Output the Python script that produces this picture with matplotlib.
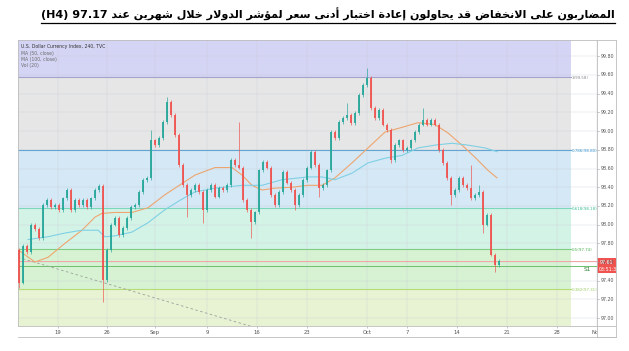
import numpy as np
import matplotlib
matplotlib.use("Agg")
import matplotlib.pyplot as plt
from matplotlib.patches import Rectangle
from matplotlib.lines import Line2D

W, H, DPI = 629, 351, 100

# ---------------------------------------------------------------- data
TITLE_AR = "المضاربون على الانخفاض قد يحاولون إعادة اختبار أدنى سعر لمؤشر الدولار خلال شهرين عند"
TITLE_LTR = "(H4) 97.17"

# DXY 4h candles (closes, ~2.4 bars per candle)
OPEN0 = 97.73
CLOSES = [
    97.38, 97.77, 97.71, 98.00, 97.95, 97.86, 98.21, 98.26, 98.19, 98.21,
    98.16, 98.28, 98.37, 98.16, 98.26, 98.21, 98.26, 98.19, 98.28, 98.37,
    98.41, 97.41, 97.73, 98.00, 98.07, 97.89, 97.96, 98.07, 98.19, 98.21,
    98.35, 98.48, 98.50, 98.90, 98.85, 98.93, 99.10, 99.31, 99.17, 98.96,
    98.64, 98.42, 98.32, 98.37, 98.42, 98.35, 98.16, 98.37, 98.42, 98.30,
    98.39, 98.37, 98.42, 98.69, 98.64, 98.61, 98.26, 98.16, 98.03, 98.13,
    98.58, 98.67, 98.61, 98.32, 98.21, 98.35, 98.56, 98.45, 98.37, 98.21,
    98.32, 98.48, 98.61, 98.78, 98.64, 98.39, 98.42, 98.58, 98.99, 98.93,
    99.10, 99.14, 99.17, 99.09, 99.19, 99.39, 99.49, 99.57, 99.25, 99.14,
    99.23, 99.07, 99.01, 98.69, 98.85, 98.90, 98.80, 98.82, 98.90, 98.99,
    99.07, 99.12, 99.07, 99.12, 99.07, 98.80, 98.66, 98.50, 98.32, 98.37,
    98.50, 98.42, 98.39, 98.28, 98.32, 98.35, 98.00, 98.10, 97.68, 97.57,
    97.61,
]
# long wicks that stick out
WICK_HIGH = {0: 97.75, 21: 98.43, 33: 99.01, 37: 99.36, 55: 99.10, 73: 98.80,
             82: 99.30, 87: 99.67, 101: 99.25, 104: 99.14, 113: 98.64, 115: 98.42}
WICK_LOW = {0: 97.32, 21: 97.17, 42: 98.08, 46: 98.02, 58: 97.86, 69: 98.16,
            75: 98.30, 93: 98.66, 108: 98.21, 116: 97.91, 119: 97.49}

MA50_IDX = [-0.25, 4, 7.25, 11.5, 15.75, 19, 20.75, 24, 28.25, 32.25, 36.5, 39, 44,
            49, 53.25, 55.75, 58.25, 60.75, 64, 68.25, 72.25, 75.75, 79, 83.25,
            87.25, 91.5, 95.75, 99.75, 104, 107.25, 110.75, 114, 117.25, 119.5]
MA50 = [97.73, 97.60, 97.65, 97.80, 97.94, 98.08, 98.12, 98.13, 98.13, 98.18,
        98.32, 98.39, 98.53, 98.61, 98.61, 98.53, 98.42, 98.37, 98.39, 98.40,
        98.42, 98.42, 98.50, 98.66, 98.82, 98.99, 99.04, 99.09, 99.07, 98.98,
        98.85, 98.72, 98.58, 98.50]
MA100_IDX = [2.25, 7.25, 11.5, 15.75, 19.75, 21.5, 24, 28.25, 32.25, 36.5, 40.25,
             44, 49, 55.75, 60.75, 65.75, 72.25, 75.75, 79, 83.25, 87.25, 91.5,
             95.75, 99.75, 104, 108.25, 112.25, 116.5, 119.5]
MA100 = [97.84, 97.87, 97.91, 97.94, 97.94, 97.87, 97.88, 97.92, 98.02, 98.16,
         98.26, 98.35, 98.39, 98.42, 98.42, 98.48, 98.51, 98.51, 98.48, 98.55,
         98.66, 98.71, 98.74, 98.82, 98.85, 98.87, 98.85, 98.82, 98.78]

FIB_NAMES = ["1", "0.786", "0.618", "0.5", "0.382"]
FIB_PRICES = [99.58, 98.80, 98.18, 97.74, 97.31]
LAST_PRICE = 97.61
S1_PRICE = 97.56
TREND_IDX = [-0.25, 70]
TREND_P = [97.65, 96.76]

DATE_TICKS = [9.75, 22, 34, 47, 59.5, 72, 87, 97, 109.5, 122, 134.5, 144.5]
DATE_LABELS = ["19", "26", "Sep", "9", "16", "23", "Oct", "7", "14", "21", "28", "Nov"]
PRICE_TICKS = [97.0, 97.2, 97.4, 97.6, 97.8, 98.0, 98.2, 98.4, 98.6, 98.8,
               99.0, 99.2, 99.4, 99.6, 99.8]

# ---------------------------------------------------------------- style
TEAL, RED = "#26a69a", "#ef5350"
BAND_COLORS = ["#d4d4f5", "#e6e6e6", "#d5e8f5", "#d4f3e7", "#d7f2d3", "#e7f3d3"]
FIB_LINE = ["#a3a3cc", "#64a6d1", "#7bd8bd", "#7fcd80", "#b8dc75"]
FIB_TEXT = ["#8a8a8a", "#3d98d0", "#3cbf94", "#4caf50", "#9ccc65"]
FIB_END = 138.0
XLIM = (-0.25, 144.5)


def price_at(ypx):
    # screenshot pixel row -> price (99.60 sits at row 75, 93.5 px per point)
    return 99.60 - (ypx - 75) / 93.5


def px_axes(fig, x0, y0, x1, y1):
    return fig.add_axes([x0 / W, 1 - y1 / H, (x1 - x0) / W, (y1 - y0) / H])


# ---- tiny arabic shaper (matplotlib has no bidi / joining support)
FORMS = {
    "ا": ("\uFE8D", "\uFE8E", None, None), "أ": ("\uFE83", "\uFE84", None, None),
    "إ": ("\uFE87", "\uFE88", None, None), "ؤ": ("\uFE85", "\uFE86", None, None),
    "ب": ("\uFE8F", "\uFE90", "\uFE91", "\uFE92"), "ة": ("\uFE93", "\uFE94", None, None),
    "ت": ("\uFE95", "\uFE96", "\uFE97", "\uFE98"), "ح": ("\uFEA1", "\uFEA2", "\uFEA3", "\uFEA4"),
    "خ": ("\uFEA5", "\uFEA6", "\uFEA7", "\uFEA8"), "د": ("\uFEA9", "\uFEAA", None, None),
    "ر": ("\uFEAD", "\uFEAE", None, None), "س": ("\uFEB1", "\uFEB2", "\uFEB3", "\uFEB4"),
    "ش": ("\uFEB5", "\uFEB6", "\uFEB7", "\uFEB8"), "ض": ("\uFEBD", "\uFEBE", "\uFEBF", "\uFEC0"),
    "ع": ("\uFEC9", "\uFECA", "\uFECB", "\uFECC"), "ف": ("\uFED1", "\uFED2", "\uFED3", "\uFED4"),
    "ق": ("\uFED5", "\uFED6", "\uFED7", "\uFED8"), "ل": ("\uFEDD", "\uFEDE", "\uFEDF", "\uFEE0"),
    "م": ("\uFEE1", "\uFEE2", "\uFEE3", "\uFEE4"), "ن": ("\uFEE5", "\uFEE6", "\uFEE7", "\uFEE8"),
    "ه": ("\uFEE9", "\uFEEA", "\uFEEB", "\uFEEC"), "و": ("\uFEED", "\uFEEE", None, None),
    "ى": ("\uFEEF", "\uFEF0", None, None), "ي": ("\uFEF1", "\uFEF2", "\uFEF3", "\uFEF4"),
}
LAM_ALEF = {"ا": ("\uFEFB", "\uFEFC"), "أ": ("\uFEF7", "\uFEF8"), "إ": ("\uFEF9", "\uFEFA")}


def shape(text):
    def joins_next(c):
        return c in FORMS and FORMS[c][2] is not None
    out, i, n = [], 0, len(text)
    while i < n:
        c = text[i]
        if c not in FORMS:
            out.append(c)
            i += 1
            continue
        link_prev = i > 0 and joins_next(text[i - 1])
        if c == "ل" and i + 1 < n and text[i + 1] in LAM_ALEF:
            iso, fin = LAM_ALEF[text[i + 1]]
            out.append(fin if link_prev else iso)
            i += 2
            continue
        link_next = joins_next(c) and i + 1 < n and text[i + 1] in FORMS
        iso, fin, ini, med = FORMS[c]
        out.append(med if (link_prev and link_next) else fin if link_prev
                   else ini if link_next else iso)
        i += 1
    return "".join(out)


def main():
    fig = plt.figure(figsize=(W / DPI, H / DPI), dpi=DPI)
    fig.patch.set_facecolor("white")

    # ---- title, fitted to the screenshot width and underlined
    title = TITLE_LTR + " " + shape(TITLE_AR)[::-1]
    t = fig.text(615 / W, 1 - 19 / H, title, ha="right", va="baseline",
                 fontsize=10, fontweight="bold", family="DejaVu Sans", color="black")
    fig.canvas.draw()
    bb = t.get_window_extent()
    t.set_fontsize(10 * 575 / bb.width)
    fig.canvas.draw()
    bb = t.get_window_extent()
    fig.add_artist(Line2D([bb.x0 / W, bb.x1 / W], [1 - 23 / H] * 2,
                          color="black", lw=0.9, transform=fig.transFigure))

    # ---- main price pane
    ax = px_axes(fig, 18, 40, 597, 326)
    ylo, yhi = price_at(326), price_at(40)
    ax.set_xlim(*XLIM)
    ax.set_ylim(ylo, yhi)
    ax.set_facecolor("white")

    edges = [yhi] + FIB_PRICES + [ylo]
    for k, col in enumerate(BAND_COLORS):
        ax.fill_between([XLIM[0], FIB_END], edges[k + 1], edges[k], color=col,
                        lw=0, zorder=0.5)
    for p in PRICE_TICKS:
        ax.axhline(p, color="#c9ced6", lw=0.35, alpha=0.7, zorder=0.8)
    for xt in DATE_TICKS:
        ax.axvline(xt, color="#c9ced6", lw=0.35, alpha=0.7, zorder=0.8)
    for name, p, lc, tc in zip(FIB_NAMES, FIB_PRICES, FIB_LINE, FIB_TEXT):
        ax.plot([XLIM[0], FIB_END], [p, p], color=lc, lw=0.8, zorder=1)
        ax.text(FIB_END + 0.2, p - 0.01, f"{name}({p:.2f})", color=tc, fontsize=2.9,
                va="center", ha="left", zorder=6, clip_on=True)

    ax.axhline(LAST_PRICE, color="#f2a5a5", lw=0.7, zorder=1.2)
    ax.axhline(S1_PRICE, color="#6cbf6e", lw=0.7, zorder=1.2)
    ax.text(141.2, S1_PRICE - 0.035, "S1", color="#2e7d32", fontsize=4.2,
            va="center", ha="left", zorder=6)

    ax.plot(TREND_IDX, TREND_P, color="#9e9e9e", lw=0.6, ls=(0, (3, 3)), zorder=2)

    ax.plot(MA50_IDX, MA50, color="#eea56f", lw=0.8, zorder=3)
    ax.plot(MA100_IDX, MA100, color="#7fd0e4", lw=0.8, zorder=3)

    # candles
    closes = np.array(CLOSES)
    opens = np.r_[OPEN0, closes[:-1]]
    idx = np.arange(len(closes))
    highs = np.maximum(opens, closes) + 0.02
    lows = np.minimum(opens, closes) - 0.02
    for k, v in WICK_HIGH.items():
        highs[k] = v
    for k, v in WICK_LOW.items():
        lows[k] = v
    cols = np.where(closes >= opens, TEAL, RED)
    ax.vlines(idx, lows, highs, colors=cols, lw=0.55, alpha=0.85, zorder=4)
    ax.bar(idx, closes - opens, bottom=opens, width=0.65, color=cols,
           lw=0, alpha=0.9, zorder=5)

    # header text
    ax.text(0.006, 0.985, "U.S. Dollar Currency Index, 240, TVC", transform=ax.transAxes,
            fontsize=3.3, color="#333333", va="top", ha="left", zorder=6)
    for k, s in enumerate(["MA (50, close)", "MA (100, close)", "Vol (20)"]):
        ax.text(0.006, 0.963 - 0.021 * k, s, transform=ax.transAxes, fontsize=3.3,
                color="#6b6b6b", va="top", ha="left", zorder=6)

    ax.set_xticks(DATE_TICKS)
    ax.set_xticklabels(DATE_LABELS)
    ax.set_yticks([])
    ax.tick_params(axis="x", length=1.5, width=0.4, color="#999999", pad=1.5,
                   labelsize=3.8, labelcolor="#555555")
    for sp in ax.spines.values():
        sp.set_color("#bdbdbd")
        sp.set_linewidth(0.6)

    # ---- right price scale
    pax = px_axes(fig, 597, 40, 616, 337)
    pax.set_zorder(5)
    pax.set_xlim(0, 1)
    pax.set_ylim(price_at(337), price_at(40))
    pax.set_facecolor("white")
    pax.set_xticks([])
    pax.set_yticks([])
    for sp in pax.spines.values():
        sp.set_color("#bdbdbd")
        sp.set_linewidth(0.6)
    pax.axhline(price_at(326), color="#bdbdbd", lw=0.6)
    for p in PRICE_TICKS:
        pax.plot([0, 0.12], [p, p], color="#999999", lw=0.4)
        pax.text(0.2, p, f"{p:.2f}", fontsize=3.4, color="#555555",
                 va="center", ha="left")
    box_top, box_bot = price_at(258), price_at(273)
    pax.add_patch(Rectangle((0, box_bot), 1, box_top - box_bot, color=RED, lw=0))
    pax.text(0.15, price_at(262.5), f"{LAST_PRICE:.2f}", fontsize=3.4, color="white",
             va="center", ha="left")
    pax.text(0.1, price_at(269.5), "03:51:32", fontsize=3.4, color="white",
             va="center", ha="left", clip_on=True)

    # bottom edge of the date strip
    fig.add_artist(Line2D([18 / W, 616 / W], [1 - 337 / H] * 2, color="#bdbdbd",
                          lw=0.6, transform=fig.transFigure))

    fig.savefig("out.png", dpi=DPI)
    plt.close(fig)


if __name__ == "__main__":
    main()
